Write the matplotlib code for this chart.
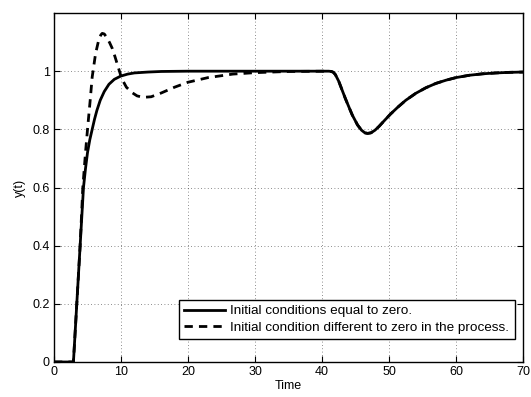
import numpy as np
import matplotlib
matplotlib.use('Agg')
import matplotlib.pyplot as plt

plt.rcParams['font.family'] = ['Liberation Sans', 'DejaVu Sans']

# time / output of the zero initial condition run
t_zero = [0, 2.9, 3.4, 3.9, 4.4, 4.7, 5.0, 5.35, 5.7, 6.05, 6.4, 6.9, 7.5, 8.2, 9.0, 9.95, 11, 12, 14, 16, 20, 30, 41.0,
          41.4, 41.7, 42.0, 42.5, 43.5, 44.5, 45.3, 45.9, 46.4, 46.8, 47.3, 47.9, 48.5, 49.3, 50.2, 51.3, 52.5,
          54, 55.5, 57, 58.5, 60, 62, 64, 66, 68, 70]
y_zero = [0, 0, 0.2, 0.4, 0.6, 0.665, 0.72, 0.765, 0.8, 0.835, 0.865, 0.9, 0.93, 0.955, 0.972, 0.983, 0.99, 0.994, 0.997, 0.999, 1.0, 1.0, 1.0,
          0.999, 0.996, 0.988, 0.965, 0.905, 0.85, 0.815, 0.797, 0.788, 0.786, 0.788, 0.797, 0.81, 0.83, 0.852, 0.876, 0.9,
          0.924, 0.943, 0.958, 0.969, 0.978, 0.986, 0.991, 0.994, 0.996, 0.997]

# time / output with nonzero initial condition in the process
t_nz = [0, 2.9, 3.4, 3.9, 4.3, 4.7, 5.0, 5.4, 5.7, 6.2, 6.7, 7.0, 7.2, 7.5, 7.9, 8.3, 8.7, 9.1, 9.5, 10.1, 10.8, 11.6,
        12.4, 13.3, 14.5, 16, 18, 20, 23, 26.7, 30, 35, 41.0,
        41.4, 41.7, 42.0, 42.5, 43.5, 44.5, 45.3, 45.9, 46.4, 46.8, 47.3, 47.9, 48.5, 49.3, 50.2, 51.3, 52.5,
        54, 55.5, 57, 58.5, 60, 62, 64, 66, 68, 70]
y_nz = [0, 0, 0.2, 0.4, 0.6, 0.72, 0.8, 0.9, 0.98, 1.06, 1.11, 1.125, 1.13, 1.128, 1.115, 1.098, 1.078, 1.05, 1.02, 0.975, 0.945, 0.927,
        0.915, 0.91, 0.912, 0.925, 0.945, 0.962, 0.978, 0.99, 0.995, 0.999, 1.0,
        0.999, 0.996, 0.988, 0.965, 0.905, 0.85, 0.815, 0.797, 0.788, 0.786, 0.788, 0.797, 0.81, 0.83, 0.852, 0.876, 0.9,
        0.924, 0.943, 0.958, 0.969, 0.978, 0.986, 0.991, 0.994, 0.996, 0.997]

labels = ['Initial conditions equal to zero.', 'Initial condition different to zero in the process.']

fig = plt.figure(figsize=(5.31, 3.97), dpi=100)
ax = fig.add_axes([0.1017, 0.0882, 0.8833, 0.879])

ax.plot(t_zero, y_zero, c='k', ls='-', lw=2, label=labels[0])
ax.plot(t_nz, y_nz, c='k', ls='--', lw=2, dashes=(3, 2.2), label=labels[1])

ax.set_xlim(0, 70)
ax.set_ylim(0, 1.2)
ax.set_xticks(list(range(0, 71, 10)))
ax.set_yticks([0, 0.2, 0.4, 0.6, 0.8, 1])
ax.set_yticklabels(['0', '0.2', '0.4', '0.6', '0.8', '1'])
ax.grid(True, ls=(0, (1, 3)), c='k', lw=0.6, alpha=0.6)
ax.tick_params(direction='in', top=True, right=True, labelsize=9, length=4, width=0.8, pad=3)
for s in ax.spines.values():
    s.set_linewidth(1)
ax.set_xlabel('Time', fontsize=9, labelpad=1)
ax.set_ylabel('y(t)', fontsize=9, labelpad=5)

leg = ax.legend(loc='lower right', bbox_to_anchor=(0.982, 0.065), fontsize=9.7, fancybox=False,
                framealpha=1, edgecolor='k', handlelength=3, handletextpad=0.4, borderpad=0.4,
                labelspacing=0.3, borderaxespad=0)
leg.get_frame().set_linewidth(1)

plt.savefig('out.png', dpi=100)
